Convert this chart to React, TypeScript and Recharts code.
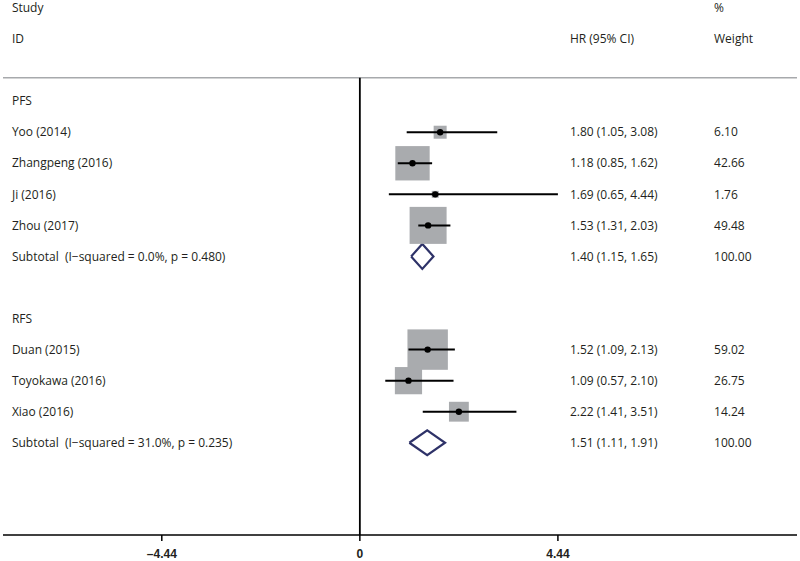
import { ComposedChart, Scatter, Line, XAxis, YAxis, ReferenceLine } from 'recharts'

// row index: 0 = "Study" header line, each row is one step down
const studies = ['Yoo (2014)', 'Zhangpeng (2016)', 'Ji (2016)', 'Zhou (2017)', 'Duan (2015)', 'Toyokawa (2016)', 'Xiao (2016)']
const studyRows = [4, 5, 6, 7, 11, 12, 13]
const hr = [1.80, 1.18, 1.69, 1.53, 1.52, 1.09, 2.22]
const lower = [1.05, 0.85, 0.65, 1.31, 1.09, 0.57, 1.41]
const upper = [3.08, 1.62, 4.44, 2.03, 2.13, 2.10, 3.51]
const weights = ['6.10', '42.66', '1.76', '49.48', '59.02', '26.75', '14.24']

const groups = ['PFS', 'RFS']
const groupRows = [3, 10]
const subtotalLabels = ['Subtotal  (I\u2212squared = 0.0%, p = 0.480)', 'Subtotal  (I\u2212squared = 31.0%, p = 0.235)']
const subtotalRows = [8, 14]
const subHr = [1.40, 1.51]
const subLower = [1.15, 1.11]
const subUpper = [1.65, 1.91]

const xTicks = [-4.44, 0, 4.44]

// column anchors (in axis units)
const LABEL_X = -7.8
const HR_X = 4.71
const WEIGHT_X = 7.94
const DIVIDER_ROW = 2.25
const AXIS_ROW = 16.97

const ink = '#231f20'
const fontFamily = '"Open Sans", sans-serif'

const fmt = (v: number) => v.toFixed(2)

const textRows = [
  { x: LABEL_X, y: 0, t: 'Study' },
  { x: LABEL_X, y: 1, t: 'ID' },
  { x: HR_X, y: 1, t: 'HR (95% CI)' },
  { x: WEIGHT_X, y: 0, t: '%' },
  { x: WEIGHT_X, y: 1, t: 'Weight' },
  ...groups.map((g, i) => ({ x: LABEL_X, y: groupRows[i], t: g })),
  ...studies.map((s, i) => ({ x: LABEL_X, y: studyRows[i], t: s })),
  ...studies.map((_, i) => ({ x: HR_X, y: studyRows[i], t: `${fmt(hr[i])} (${fmt(lower[i])}, ${fmt(upper[i])})` })),
  ...weights.map((w, i) => ({ x: WEIGHT_X, y: studyRows[i], t: w })),
  ...subtotalLabels.map((s, i) => ({ x: LABEL_X, y: subtotalRows[i], t: s })),
  ...subHr.map((v, i) => ({ x: HR_X, y: subtotalRows[i], t: `${fmt(v)} (${fmt(subLower[i])}, ${fmt(subUpper[i])})` })),
  ...subtotalRows.map((r) => ({ x: WEIGHT_X, y: r, t: '100.00' })),
]

const points = studies.map((s, i) => ({ x: hr[i], y: studyRows[i], w: parseFloat(weights[i]) }))

const ciSegments = studies.map((_, i) => [
  { x: lower[i], y: studyRows[i] },
  { x: upper[i], y: studyRows[i] },
])

const diamonds = subHr.map((v, i) => [
  { x: subLower[i], y: subtotalRows[i] },
  { x: v, y: subtotalRows[i] - 0.4 },
  { x: subUpper[i], y: subtotalRows[i] },
  { x: v, y: subtotalRows[i] + 0.4 },
  { x: subLower[i], y: subtotalRows[i] },
])

const TextShape = (p: any) => (
  <text x={p.cx} y={p.cy} dy="0.35em" fontSize={12} fontFamily={fontFamily} fill={ink} style={{ whiteSpace: 'pre' }}>
    {p.payload.t}
  </text>
)

const SquareShape = (p: any) => {
  const side = 5.26 * Math.sqrt(p.payload.w)
  return <rect x={p.cx - side / 2} y={p.cy - side / 2} width={side} height={side} fill="#a9abae" />
}

const DotShape = (p: any) => <circle cx={p.cx} cy={p.cy} r={3.2} fill="#000" />
const NoShape = () => <g />

export default function App() {
  return (
    <div style={{ position: 'absolute', left: 0, top: 0, background: '#fff' }}>
      <ComposedChart width={800} height={561} margin={{ top: 8, right: 3, bottom: 0, left: 3 }}>
        <XAxis
          type="number"
          dataKey="x"
          domain={[-8, 9.8]}
          ticks={xTicks}
          tickFormatter={(v: number) => (v < 0 ? '\u2013' + Math.abs(v).toFixed(2) : v === 0 ? '0' : v.toFixed(2))}
          axisLine={{ stroke: '#000', strokeWidth: 1.5 }}
          tickLine={{ stroke: '#000', strokeWidth: 1.5 }}
          tickSize={6}
          tickMargin={8}
          height={26}
          tick={{ fontSize: 12, fontWeight: 'bold', fill: ink, fontFamily: '"Liberation Sans", Arial, sans-serif' }}
        />
        <YAxis type="number" dataKey="y" domain={[0, AXIS_ROW]} reversed hide />
        <ReferenceLine y={DIVIDER_ROW} stroke="#a7a9ac" strokeWidth={1.5} />
        <ReferenceLine
          segment={[{ x: 0, y: DIVIDER_ROW }, { x: 0, y: AXIS_ROW }]}
          stroke="#000"
          strokeWidth={1.8}
        />
        <Scatter data={points} shape={SquareShape} isAnimationActive={false} />
        {ciSegments.map((seg, i) => (
          <Scatter
            key={'ci' + i}
            data={seg}
            shape={NoShape}
            line={{ stroke: '#000', strokeWidth: 2 }}
            lineType="joint"
            isAnimationActive={false}
          />
        ))}
        <Scatter data={points} shape={DotShape} isAnimationActive={false} />
        {diamonds.map((d, i) => (
          <Line
            key={i}
            data={d}
            dataKey="y"
            type="linear"
            stroke="#2e3268"
            strokeWidth={2.2}
            dot={false}
            activeDot={false}
            isAnimationActive={false}
          />
        ))}
        <Scatter data={textRows} shape={TextShape} isAnimationActive={false} />
      </ComposedChart>
    </div>
  )
}
